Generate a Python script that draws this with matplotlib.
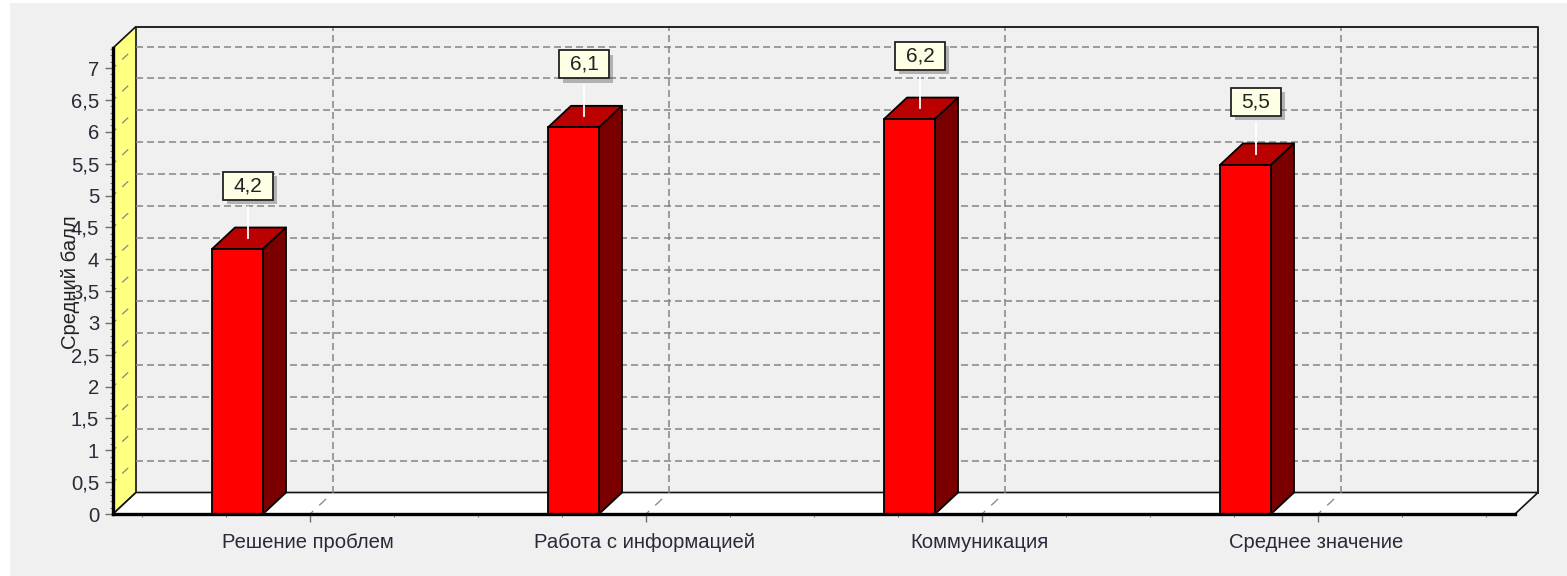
import matplotlib
matplotlib.use('Agg')
import matplotlib.pyplot as plt
import matplotlib.patheffects as pe
from matplotlib.patches import Polygon, Rectangle
from matplotlib.ticker import FixedLocator, MultipleLocator
from matplotlib.transforms import IdentityTransform, ScaledTranslation

plt.rcParams['font.family'] = ['Liberation Sans', 'DejaVu Sans']

categories = ['Решение проблем', 'Работа с информацией', 'Коммуникация', 'Среднее значение']
values = [4.16, 6.07, 6.2, 5.48]
value_labels = ['4,2', '6,1', '6,2', '5,5']
y_ticks = [0, 0.5, 1, 1.5, 2, 2.5, 3, 3.5, 4, 4.5, 5, 5.5, 6, 6.5, 7]
y_tick_labels = ['0', '0,5', '1', '1,5', '2', '2,5', '3', '3,5', '4', '4,5', '5', '5,5', '6', '6,5', '7']

W, H = 1567, 576
fig = plt.figure(figsize=(W / 100, H / 100), dpi=100, facecolor='white')

# grey panel behind the chart
fig.patches.append(Rectangle((10 / W, 0), 1 - 10 / W, 1 - 3 / H, transform=fig.transFigure,
                             facecolor='#f0f0f0', edgecolor='none', zorder=-5))

# front plane of the plot in pixels
left, right, bottom, top = 113, 1515, 514, 48
ax = fig.add_axes([left / W, 1 - bottom / H, (right - left) / W, (bottom - top) / H])
ax.patch.set_visible(False)

px_x = 336.0   # pixels per category
px_y = 63.7    # pixels per unit
ax.set_xlim((left - 310) / px_x, (right - 310) / px_x)
ax.set_ylim(0, (bottom - top) / px_y)

dx = 23 / px_x  # depth of the box
dy = 21.5 / px_y
x0, x1 = ax.get_xlim()
y1 = ax.get_ylim()[1]

# walls and floor
ax.add_patch(Polygon([(x0, 0), (x0 + dx, dy), (x0 + dx, y1 + dy), (x0, y1)], closed=True, clip_on=False,
                     facecolor='#ffff80', edgecolor='#111111', lw=1.2, zorder=1))
ax.add_patch(Polygon([(x0, 0), (x1, 0), (x1 + dx, dy), (x0 + dx, dy)], closed=True, clip_on=False,
                     facecolor='white', edgecolor='#111111', lw=1.2, zorder=1))
ax.plot([x0 + dx, x1 + dx, x1 + dx], [y1 + dy, y1 + dy, dy], color='#222222', lw=1.4,
        clip_on=False, zorder=2)

# grid on the back wall, with the short dashes on the wall and the floor
dash = dict(color='#858585', lw=1.1, ls=(0, (4.6, 2.6)), clip_on=False, zorder=1.5)
small = dict(color='#858585', lw=0.9, clip_on=False, zorder=1.5)
for v in y_ticks[1:]:
    ax.plot([x0 + dx, x1 + dx], [v + dy, v + dy], **dash)
    ax.plot([x0 + dx * 0.42, x0 + dx * 0.64], [v + dy * 0.42, v + dy * 0.64], **small)
    ax.plot([x0, x0 + dx * 0.12], [v, v + dy * 0.12], **small)
for i in range(len(categories)):
    ax.plot([i + dx, i + dx], [dy, y1 + dy], **dash)
    ax.plot([i + dx * 0.42, i + dx * 0.68], [dy * 0.42, dy * 0.68], **small)
    ax.plot([i, i + dx * 0.12], [0, dy * 0.12], **small)

# bars
bar_off = -72.5 / px_x
bar_w = 51 / px_x
for i, v in enumerate(values):
    a = i + bar_off - bar_w / 2
    b = a + bar_w
    edge = dict(edgecolor='black', lw=1.3, joinstyle='round', clip_on=False, zorder=4)
    ax.add_patch(Polygon([(a, v), (a + dx, v + dy), (b + dx, v + dy), (b, v)], closed=True,
                         facecolor='#bb0000', **edge))
    ax.add_patch(Polygon([(b, 0), (b + dx, dy), (b + dx, v + dy), (b, v)], closed=True,
                         facecolor='#7a0000', **edge))
    ax.bar(i + bar_off, v, width=bar_w, color='#ff0000', edgecolor='black', linewidth=1.3,
           clip_on=False, zorder=5)

# axes
for s in ['top', 'right']:
    ax.spines[s].set_visible(False)
ax.spines['left'].set_linewidth(2.4)
ax.spines['bottom'].set_linewidth(2.4)
ax.spines['left'].set_zorder(6)
ax.spines['bottom'].set_zorder(6)

ax.yaxis.set_major_locator(FixedLocator(y_ticks))
ax.set_yticklabels(y_tick_labels)
ax.yaxis.set_minor_locator(MultipleLocator(0.1))
ax.xaxis.set_major_locator(FixedLocator(range(len(categories))))
ax.set_xticklabels(categories)
ax.xaxis.set_minor_locator(MultipleLocator(0.25))
ax.tick_params(axis='both', which='major', length=6, width=1.0, color='#707070',
               labelsize=14.6, labelcolor='#2a2a3a')
ax.tick_params(axis='both', which='minor', length=2.5, width=0.8, color='#808080')
ax.tick_params(axis='x', which='major', pad=8)
ax.tick_params(axis='y', which='major', pad=4)
# category labels sit 2 px left of their ticks
shift = ScaledTranslation(-2 / 100, 0, fig.dpi_scale_trans)
for lab in ax.get_xticklabels():
    lab.set_transform(lab.get_transform() + shift)
ax.set_ylabel('Средний балл', fontsize=14.6, color='#222222')
ax.yaxis.set_label_coords((80 - left) / (right - left), (bottom - 282) / (bottom - top))

# value labels: box 50x28 px with a shadow and a white leader
fig.canvas.draw()
for i, v in enumerate(values):
    cx = i + bar_off + dx / 2 - 1 / px_x
    sx, sy = ax.transData.transform((cx, v))
    ax.plot([cx, cx], [v + 11 / px_y, v + 42 / px_y], color='white', lw=1.3, clip_on=False, zorder=7)
    box = Rectangle((sx - 25, sy + 49), 50, 28, transform=IdentityTransform(), facecolor='#ffffe6',
                    edgecolor='#222222', lw=1.3, clip_on=False, zorder=8)
    box.set_path_effects([pe.SimplePatchShadow(offset=(3, -3), shadow_rgbFace='#555555', alpha=0.4), pe.Normal()])
    ax.add_patch(box)
    ax.text(sx, sy + 63, value_labels[i], transform=IdentityTransform(), ha='center', va='center',
            fontsize=15, color='#222222', zorder=9)

fig.savefig('out.png', dpi=100)
